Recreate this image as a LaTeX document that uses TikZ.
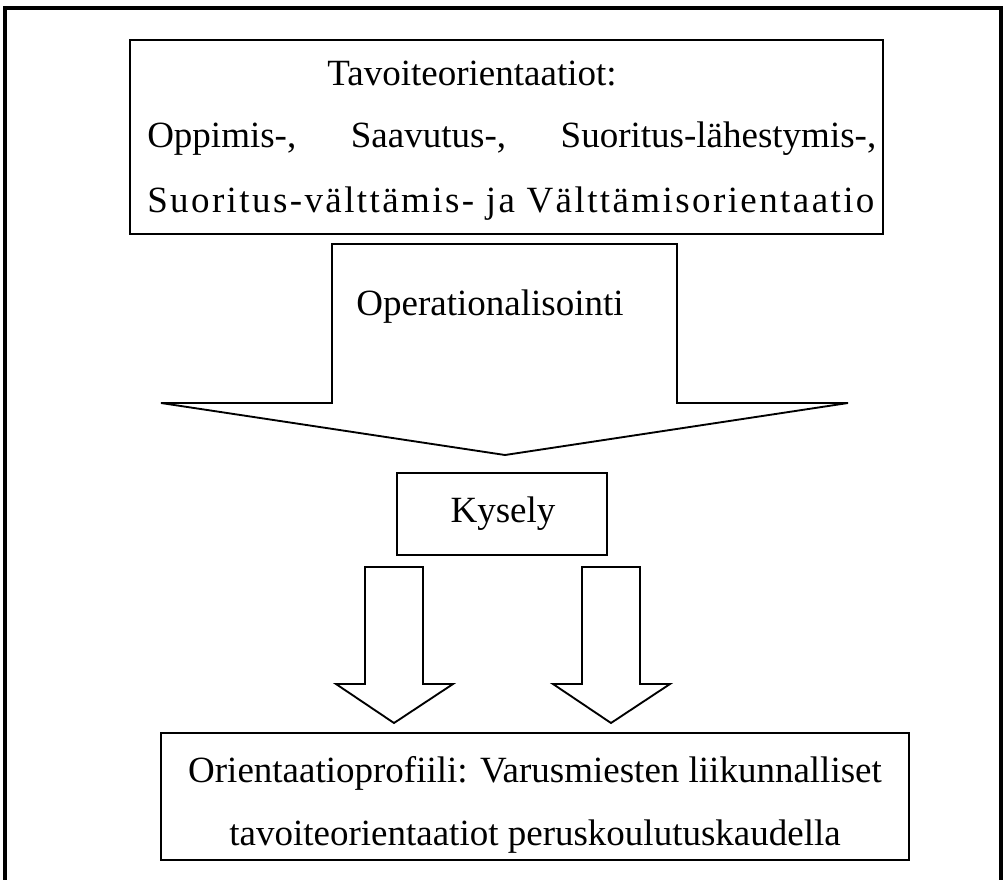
\documentclass[tikz,border=0pt]{standalone}
\usepackage{fontspec}
\setmainfont{Liberation Serif}
\tikzstyle{boxline}=[draw, line width=1.5]
\tikzstyle{arrowline}=[draw, line width=1.4, line join=miter]
\tikzstyle{frameline}=[line width=3]
\tikzstyle{txt}=[inner sep=0, anchor=base, font=\fontsize{27.75}{33}\selectfont]

\begin{document}
\begin{tikzpicture}[x=0.75pt, y=-0.75pt]
  \useasboundingbox (0,0) rectangle (1006,879);
  \draw[frameline] (5,890) -- (5,8) -- (1001,8) -- (1001,890);
  % tavoiteorientaatiot
  \draw[boxline] (130,40) rectangle (883,234);
  \node[txt] (T1) at (472,85) {Tavoiteorientaatiot:};
  \node[txt, anchor=base west] (T2) at (147,147)
    {\makebox[546.75pt][s]{Oppimis-, Saavutus-, Suoritus-lähestymis-,}};
  \node[txt, anchor=base west] (T3) at (147,212)
    {\addfontfeatures{LetterSpace=6.5}Suoritus-välttämis- ja Välttämisorientaatio};
  % operationalisointi
  \draw[arrowline] (332,244) -- (332,403) -- (161,403) -- (505,455)
    -- (848,403) -- (677,403) -- (677,244) -- cycle;
  \node[txt] (O) at (490,315) {Operationalisointi};
  % kysely
  \draw[boxline] (397,473) rectangle (607,555);
  \node[txt] (K) at (503,522) {Kysely};
  \foreach \ax in {365,582}
    \draw[arrowline] (\ax,567) -- (\ax,684) -- (\ax-29,684) -- (\ax+29,723)
      -- (\ax+88,684) -- (\ax+58,684) -- (\ax+58,567) -- cycle;
  % orientaatioprofiili
  \draw[boxline] (161,733) rectangle (909,860);
  \node[txt] (P1) at (535,782) {Orientaatioprofiili: Varusmiesten liikunnalliset};
  \node[txt] (P2) at (535,845) {tavoiteorientaatiot peruskoulutuskaudella};
\end{tikzpicture}
\end{document}
